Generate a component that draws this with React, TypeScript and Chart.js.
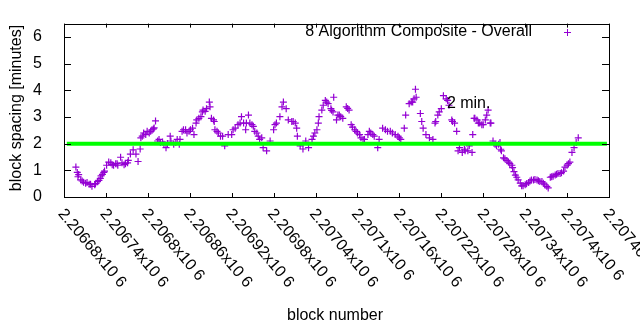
import React, { useEffect, useRef } from "react";
import { Chart, registerables } from "chart.js";

Chart.register(...registerables);

// ---- data ----
const blocks: number[] = [
  2206697, 2206699, 2206700, 2206701, 2206704, 2206706, 2206708, 2206711, 2206713, 2206716,
  2206718, 2206720, 2206724, 2206725, 2206728, 2206730, 2206732, 2206733, 2206735, 2206737,
  2206738, 2206741, 2206744, 2206747, 2206749, 2206751, 2206754, 2206756, 2206757, 2206761,
  2206763, 2206766, 2206768, 2206771, 2206772, 2206775, 2206779, 2206783, 2206786, 2206789,
  2206790, 2206792, 2206794, 2206797, 2206799, 2206802, 2206804, 2206806, 2206808, 2206809,
  2206811, 2206814, 2206816, 2206818, 2206821, 2206823, 2206826, 2206828, 2206832, 2206833,
  2206837, 2206840, 2206842, 2206845, 2206846, 2206849, 2206851, 2206854, 2206856, 2206859,
  2206861, 2206864, 2206866, 2206869, 2206870, 2206873, 2206876, 2206878, 2206879, 2206882,
  2206884, 2206888, 2206889, 2206891, 2206894, 2206895, 2206896, 2206899, 2206901, 2206904,
  2206907, 2206910, 2206915, 2206920, 2206922, 2206925, 2206929, 2206932, 2206934, 2206937,
  2206940, 2206941, 2206944, 2206946, 2206949, 2206951, 2206953, 2206956, 2206958, 2206960,
  2206963, 2206965, 2206970, 2206975, 2206980, 2206982, 2206984, 2206989, 2206992, 2206994,
  2206998, 2207001, 2207006, 2207008, 2207011, 2207013, 2207014, 2207018, 2207022, 2207026,
  2207030, 2207035, 2207037, 2207039, 2207042, 2207044, 2207045, 2207049, 2207051, 2207054,
  2207056, 2207058, 2207062, 2207063, 2207065, 2207066, 2207070, 2207072, 2207074, 2207076,
  2207079, 2207084, 2207086, 2207088, 2207091, 2207093, 2207096, 2207098, 2207100, 2207103,
  2207105, 2207108, 2207110, 2207115, 2207117, 2207119, 2207122, 2207124, 2207129, 2207131,
  2207136, 2207140, 2207143, 2207147, 2207150, 2207154, 2207158, 2207160, 2207162, 2207167,
  2207169, 2207174, 2207177, 2207179, 2207181, 2207183, 2207184, 2207190, 2207192, 2207194,
  2207198, 2207203, 2207208, 2207211, 2207212, 2207215, 2207217, 2207220, 2207223, 2207227,
  2207229, 2207231, 2207235, 2207236, 2207239, 2207242, 2207244, 2207246, 2207250, 2207253,
  2207254, 2207258, 2207260, 2207264, 2207265, 2207267, 2207268, 2207271, 2207273, 2207275,
  2207278, 2207280, 2207283, 2207285, 2207287, 2207290, 2207291, 2207294, 2207297, 2207299,
  2207302, 2207304, 2207305, 2207306, 2207309, 2207311, 2207314, 2207316, 2207318, 2207321,
  2207322, 2207324, 2207326, 2207328, 2207330, 2207333, 2207335, 2207337, 2207340, 2207342,
  2207345, 2207347, 2207349, 2207352, 2207354, 2207357, 2207359, 2207361, 2207364, 2207366,
  2207368, 2207371, 2207373, 2207376, 2207378, 2207380, 2207383, 2207385, 2207387, 2207390,
  2207392, 2207395, 2207397, 2207400, 2207402, 2207404, 2207407, 2207410, 2207413, 2207416,
];

const spacingMinutes: number[] = [
  1.12, 0.92, 0.76, 0.84, 0.64, 0.60, 0.55, 0.52, 0.54, 0.48,
  0.48, 0.40, 0.46, 0.50, 0.58, 0.62, 0.70, 0.79, 0.85, 0.92,
  0.97, 1.19, 1.31, 1.28, 1.21, 1.19, 1.25, 1.25, 1.19, 1.49,
  1.28, 1.21, 1.25, 1.28, 1.37, 1.61, 1.77, 1.61, 1.33, 1.80,
  2.22, 2.28, 2.40, 2.34, 2.46, 2.40, 2.46, 2.52, 2.55, 2.59,
  2.85, 2.10, 2.16, 2.04, 2.06, 1.98, 1.85, 2.01, 2.28, 2.10,
  1.98, 2.04, 2.16, 1.98, 2.16, 2.46, 2.52, 2.52, 2.40, 2.46,
  2.52, 2.58, 2.34, 2.77, 2.89, 2.95, 3.01, 3.19, 3.26, 3.21,
  3.31, 3.56, 3.38, 2.95, 2.89, 2.83, 2.52, 2.46, 2.40, 2.28,
  2.28, 1.92, 2.34, 2.34, 2.52, 2.58, 2.71, 2.77, 3.01, 2.77,
  2.52, 2.77, 3.07, 2.77, 2.71, 2.65, 2.46, 2.40, 2.28, 2.16,
  2.22, 1.85, 1.73, 2.10, 2.52, 2.71, 2.77, 3.01, 3.38, 3.56,
  3.31, 2.89, 2.83, 2.83, 2.77, 2.58, 2.28, 1.92, 1.80, 2.10,
  1.85, 2.16, 2.28, 2.40, 2.52, 2.77, 3.01, 3.26, 3.44, 3.62,
  3.56, 3.50, 3.31, 3.25, 3.19, 3.74, 2.89, 3.07, 3.07, 3.01,
  2.95, 3.38, 3.32, 3.26, 2.71, 2.62, 2.52, 2.46, 2.40, 2.34,
  2.22, 2.16, 2.16, 2.34, 2.46, 2.40, 2.34, 2.28, 1.85, 2.16,
  2.58, 2.52, 2.46, 2.46, 2.40, 2.34, 2.28, 2.22, 2.16, 2.58,
  3.07, 3.50, 3.56, 3.56, 3.68, 4.04, 3.74, 3.13, 2.83, 2.58,
  2.34, 2.22, 2.16, 2.77, 2.83, 3.07, 3.19, 3.31, 3.80, 3.68,
  3.62, 3.44, 2.89, 2.83, 2.77, 2.46, 1.73, 1.85, 1.67, 1.79,
  1.73, 1.73, 1.92, 1.67, 2.34, 2.95, 2.95, 2.89, 2.77, 2.77,
  2.71, 2.71, 2.89, 3.07, 3.26, 2.77, 2.77, 2.10, 1.98, 1.92,
  1.98, 2.04, 1.79, 1.73, 1.47, 1.43, 1.37, 1.31, 1.25, 1.19,
  1.10, 0.95, 0.82, 0.74, 0.64, 0.52, 0.42, 0.42, 0.46, 0.50,
  0.54, 0.60, 0.64, 0.64, 0.66, 0.64, 0.61, 0.58, 0.58, 0.52,
  0.46, 0.40, 0.34, 0.74, 0.76, 0.78, 0.82, 0.85, 0.88, 0.88,
  0.91, 0.97, 1.12, 1.19, 1.25, 1.31, 1.67, 1.85, 2.04, 2.22,
];

const targetLineBlocks: number[] = [2206684, 2207457];
const targetLineMinutes: number[] = [2, 2];

const X_MIN = 2206680;
const X_MAX = 2207460;
const X_STEP = 60;
const Y_MIN = 0;
const Y_MAX = 6.5;
const Y_STEP = 1;

const seriesLabel = "8 Algorithm Composite - Overall";
const targetLabel = "2 min.";
const targetLabelAt = { x: 2207228, y: 3.51 };
const xTitle = "block number";
const yTitle = "block spacing [minutes]";

const FONT = '"Liberation Sans", Arial, sans-serif';
const PURPLE = "#9400d3";
const GREEN = "#00ff00";

function fmtXTick(v: number): string {
  return parseFloat((v / 1e6).toFixed(5)).toString() + "x10 6";
}

const gnuplotDecor = {
  id: "gnuplotDecor",
  afterDraw(chart: any) {
    const { ctx, chartArea } = chart;
    const { left, right, top, bottom } = chartArea;
    const xs = chart.scales.x;
    const ys = chart.scales.y;
    ctx.save();
    ctx.strokeStyle = "#000";
    ctx.lineWidth = 1;
    // border
    ctx.strokeRect(Math.round(left) + 0.5, Math.round(top) + 0.5, Math.round(right - left), Math.round(bottom - top));
    const xtl = 4;
    const ytl = 7;
    ctx.beginPath();
    xs.ticks.forEach((t: any) => {
      const x = Math.round(xs.getPixelForValue(t.value)) + 0.5;
      ctx.moveTo(x, bottom);
      ctx.lineTo(x, bottom - xtl);
      ctx.moveTo(x, top);
      ctx.lineTo(x, top + xtl);
    });
    ys.ticks.forEach((t: any) => {
      const y = Math.round(ys.getPixelForValue(t.value)) + 0.5;
      ctx.moveTo(left, y);
      ctx.lineTo(left + ytl, y);
      ctx.moveTo(right, y);
      ctx.lineTo(right - ytl, y);
    });
    ctx.stroke();

    // x tick labels, rotated
    ctx.fillStyle = "#000";
    ctx.font = `16px ${FONT}`;
    ctx.textAlign = "left";
    ctx.textBaseline = "top";
    xs.ticks.forEach((t: any) => {
      const x = xs.getPixelForValue(t.value);
      ctx.save();
      ctx.translate(x + 3, 206);
      ctx.rotate((50 * Math.PI) / 180);
      ctx.fillText(fmtXTick(t.value), 0, 0);
      ctx.restore();
    });

    // axis titles
    ctx.textAlign = "center";
    ctx.textBaseline = "middle";
    ctx.fillText(xTitle, 335, 316);
    ctx.save();
    ctx.translate(17, 108);
    ctx.rotate(-Math.PI / 2);
    ctx.fillText(yTitle, 0, 0);
    ctx.restore();

    // legend
    ctx.textAlign = "right";
    ctx.fillText(seriesLabel, 532, 32);
    ctx.strokeStyle = PURPLE;
    ctx.beginPath();
    ctx.moveTo(564, 32.5);
    ctx.lineTo(571, 32.5);
    ctx.moveTo(567.5, 29);
    ctx.lineTo(567.5, 36);
    ctx.stroke();

    // target label
    ctx.textAlign = "left";
    ctx.fillStyle = "#000";
    ctx.fillText(targetLabel, xs.getPixelForValue(targetLabelAt.x), ys.getPixelForValue(targetLabelAt.y));
    ctx.restore();
  },
};

export default function App() {
  const ref = useRef<HTMLCanvasElement | null>(null);
  useEffect(() => {
    if (!ref.current) return;
    const points = blocks.map((b, i) => ({ x: b, y: spacingMinutes[i] }));
    const line = targetLineBlocks.map((b, i) => ({ x: b, y: targetLineMinutes[i] }));
    const chart = new Chart(ref.current, {
      type: "scatter",
      data: {
        datasets: [
          {
            type: "line",
            label: targetLabel,
            data: line,
            borderColor: GREEN,
            borderWidth: 4,
            pointRadius: 0,
            fill: false,
            order: 0,
          } as any,
          {
            label: seriesLabel,
            data: points,
            pointStyle: "cross",
            pointRadius: 3.5,
            borderColor: PURPLE,
            backgroundColor: PURPLE,
            borderWidth: 1.2,
            order: 1,
          },
        ],
      },
      options: {
        responsive: false,
        animation: false,
        devicePixelRatio: 1,
        layout: { padding: { left: 0, right: 31, top: 19, bottom: 0 } },
        plugins: { legend: { display: false }, tooltip: { enabled: false }, title: { display: false } },
        scales: {
          x: {
            type: "linear",
            min: X_MIN,
            max: X_MAX,
            ticks: { stepSize: X_STEP, display: false },
            grid: { display: false },
            border: { display: false },
            afterFit: (s: any) => {
              s.height = 133;
            },
          },
          y: {
            type: "linear",
            min: Y_MIN,
            max: Y_MAX,
            ticks: {
              stepSize: Y_STEP,
              includeBounds: false,
              padding: 14,
              color: "#000",
              font: { family: FONT, size: 16 },
            },
            afterBuildTicks: (s: any) => {
              s.ticks = s.ticks.filter((t: any) => Number.isInteger(t.value));
            },
            grid: { display: false },
            border: { display: false },
            afterFit: (s: any) => {
              s.width = 64;
            },
          },
        },
      },
      plugins: [gnuplotDecor],
    });
    return () => chart.destroy();
  }, []);
  return (
    <div style={{ position: "fixed", left: 0, top: 0, width: 640, height: 330, background: "#fff" }}>
      <canvas ref={ref} width={640} height={330} />
    </div>
  );
}
